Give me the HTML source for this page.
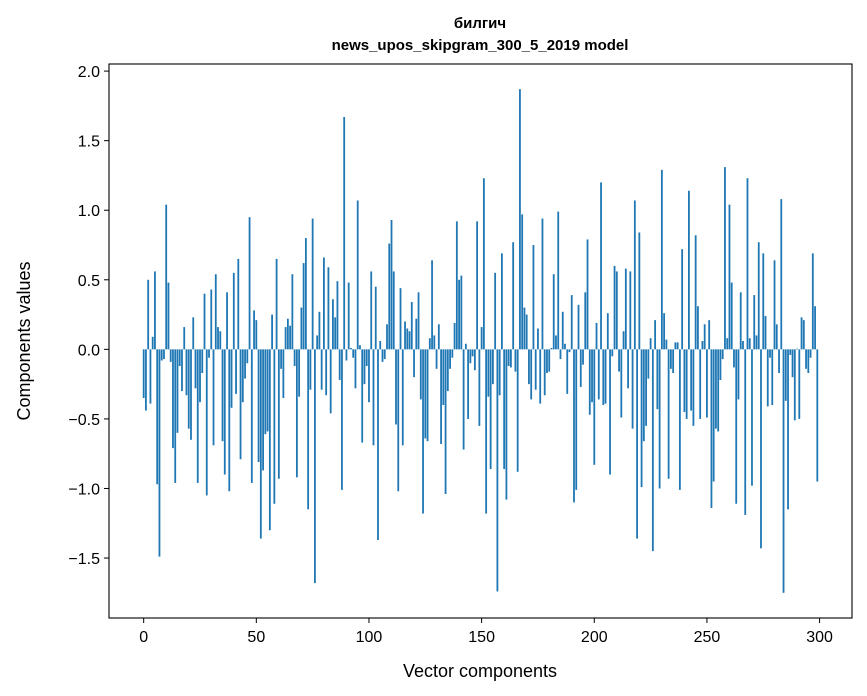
<!DOCTYPE html>
<html><head><meta charset="utf-8"><style>
body{margin:0;background:#fff;}
svg{display:block;font-family:"Liberation Sans","DejaVu Sans",sans-serif;}
</style></head><body>
<svg id="chart" width="867" height="696" viewBox="0 0 867 696" xmlns="http://www.w3.org/2000/svg">
<rect width="867" height="696" fill="#fff"/>
<text x="480" y="28" text-anchor="middle" font-size="15" font-weight="bold">билгич</text>
<text x="480" y="50" text-anchor="middle" font-size="15" font-weight="bold">news_upos_skipgram_300_5_2019 model</text>
<g id="bars"></g>
<g id="axes"></g>
<text x="480" y="677" text-anchor="middle" font-size="18">Vector components</text>
<text transform="translate(30,341) rotate(-90)" text-anchor="middle" font-size="18">Components values</text>
</svg>
<script>
const values = [
-0.35,-0.44,0.50,-0.39,0.09,0.56,-0.97,-1.49,-0.08,-0.07,
1.04,0.48,-0.09,-0.71,-0.96,-0.60,-0.12,-0.30,0.16,-0.33,
-0.57,-0.65,0.23,-0.28,-0.96,-0.38,-0.17,0.40,-1.05,-0.06,
0.43,-0.69,0.54,0.16,0.13,-0.66,-0.90,0.41,-1.02,-0.42,
0.55,-0.32,0.65,-0.79,-0.38,-0.21,-0.10,0.95,-0.96,0.28,
0.21,-0.81,-1.36,-0.87,-0.61,-0.59,-1.30,0.25,-1.11,0.65,
-0.93,-0.14,-0.35,0.16,0.22,0.17,0.54,-0.12,-0.92,-0.34,
0.30,0.62,0.80,-1.15,-0.29,0.94,-1.68,0.10,0.27,-0.29,
0.66,-0.33,0.59,-0.46,0.36,0.23,0.49,-0.22,-1.01,1.67,
-0.08,0.48,0.01,-0.06,-0.28,1.07,0.03,-0.67,-0.25,-0.12,
-0.38,0.56,-0.69,0.45,-1.37,0.06,-0.09,-0.07,0.18,0.76,
0.93,0.56,-0.54,-1.02,0.44,-0.69,0.20,0.15,0.13,0.34,
-0.20,0.22,0.41,-0.36,-1.18,-0.64,-0.66,0.08,0.64,0.10,
-0.14,0.18,-0.68,-0.40,-1.04,-0.30,-0.14,-0.06,0.19,0.92,
0.50,0.53,-0.72,0.04,-0.50,-0.10,-0.05,-0.15,0.92,-0.55,
0.16,1.23,-1.18,-0.34,-0.86,-0.25,0.55,-1.74,-0.33,0.69,
-0.86,-1.08,-0.12,-0.13,0.77,-0.16,-0.88,1.87,0.97,0.30,
0.25,-0.25,-0.36,0.75,-0.29,0.15,-0.39,0.94,-0.33,-0.17,
-0.16,0.01,0.54,0.10,0.99,-0.07,0.27,0.04,-0.32,-0.02,
0.39,-1.10,-1.01,0.32,-0.27,-0.11,0.41,0.79,-0.47,-0.38,
-0.83,0.19,-0.36,1.20,-0.40,-0.39,0.26,-0.90,-0.05,0.60,
0.56,-0.16,-0.49,0.13,0.58,-0.28,0.56,-0.57,1.07,-1.36,
0.84,-0.99,-0.66,-0.55,-0.21,0.08,-1.45,0.21,-0.43,-1.00,
1.29,0.26,0.07,-0.93,-0.14,-0.17,0.05,0.05,-1.01,0.72,
-0.45,-0.50,1.14,-0.44,-0.55,0.82,0.31,-0.50,0.06,0.18,
-0.49,0.21,-1.14,-0.95,-0.57,-0.59,-0.22,-0.07,1.31,0.08,
1.04,0.48,-0.13,-1.11,-0.36,0.41,0.06,-1.19,1.23,0.08,
-0.98,0.39,0.10,0.77,-1.43,0.69,0.24,-0.41,-0.06,-0.40,
0.64,0.18,-0.17,1.08,-1.75,-0.37,-1.15,-0.04,-0.20,-0.51,
0.005,-0.50,0.23,0.21,-0.14,-0.17,-0.06,0.69,0.31,-0.95
];
const yTicks = [-1.5,-1.0,-0.5,0.0,0.5,1.0,1.5,2.0];
const xTicks = [0,50,100,150,200,250,300];

const NS = "http://www.w3.org/2000/svg";
const L = 109, R = 852, T = 64, B = 618;
const n = values.length;
const xmin = -0.4 - 0.05*(n-1+0.8), xmax = n-1+0.4 + 0.05*(n-1+0.8);
let vmax = Math.max(...values), vmin = Math.min(...values);
const span = vmax - vmin;
const ymin = vmin - 0.05*span, ymax = vmax + 0.05*span;
const xs = v => L + (v - xmin)/(xmax - xmin)*(R - L);
const ys = v => B - (v - ymin)/(ymax - ymin)*(B - T);

const bars = document.getElementById('bars');
values.forEach((v,i) => {
  const r = document.createElementNS(NS,'rect');
  const x0 = xs(i-0.4), x1 = xs(i+0.4);
  const y0 = ys(Math.max(v,0)), y1 = ys(Math.min(v,0));
  r.setAttribute('x', x0); r.setAttribute('width', x1-x0);
  r.setAttribute('y', y0); r.setAttribute('height', Math.max(y1-y0,0.3));
  r.setAttribute('fill','#1f77b4');
  
  
  bars.appendChild(r);
});

const axes = document.getElementById('axes');
const frame = document.createElementNS(NS,'rect');
frame.setAttribute('x',L); frame.setAttribute('y',T);
frame.setAttribute('width',R-L); frame.setAttribute('height',B-T);
frame.setAttribute('fill','none'); frame.setAttribute('stroke','#000'); frame.setAttribute('stroke-width','1.1');


axes.appendChild(frame);

const fmtY = v => (v<0?'\u2212':'') + Math.abs(v).toFixed(1);
yTicks.forEach(v => {
  const y = ys(v);
  const l = document.createElementNS(NS,'line');
  l.setAttribute('x1',L-5); l.setAttribute('x2',L); l.setAttribute('y1',y); l.setAttribute('y2',y);
  l.setAttribute('stroke','#000');
  
  
  axes.appendChild(l);
  const t = document.createElementNS(NS,'text');
  t.setAttribute('x',L-9); t.setAttribute('y',y+6); t.setAttribute('text-anchor','end'); t.setAttribute('font-size','16');
  t.textContent = fmtY(v);
  
  
  axes.appendChild(t);
});
xTicks.forEach(v => {
  const x = xs(v);
  const l = document.createElementNS(NS,'line');
  l.setAttribute('x1',x); l.setAttribute('x2',x); l.setAttribute('y1',B); l.setAttribute('y2',B+5);
  l.setAttribute('stroke','#000');
  
  
  axes.appendChild(l);
  const t = document.createElementNS(NS,'text');
  t.setAttribute('x',x); t.setAttribute('y',B+24); t.setAttribute('text-anchor','middle'); t.setAttribute('font-size','16');
  t.textContent = String(v);
  
  
  axes.appendChild(t);
});
</script>
</body></html>
